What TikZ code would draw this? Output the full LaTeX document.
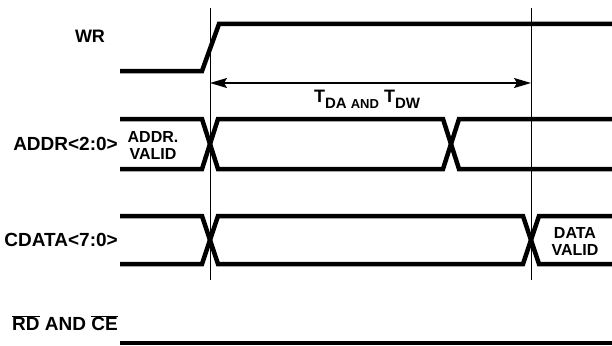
\documentclass[tikz,border=0pt]{standalone}
\usepackage{fontspec}
\setmainfont{Liberation Sans}
\usepackage{tikz}
\usetikzlibrary{arrows.meta}
\tikzstyle{timing} = [x = 1pt, y = -1pt]
\tikzstyle{signalLine} = [color=black, line width=4.5pt]
\tikzstyle{markerLine} = [color=black, line width=1pt]
\tikzstyle{spanArrow} = [color=black, line width=1.5pt, {Stealth[length=17pt, width=10pt, inset=3pt]}-{Stealth[length=17pt, width=10pt, inset=3pt]}]
\tikzstyle{signalName} = [font=\fontsize{19}{21}\selectfont\bfseries, anchor=east, inner sep=0pt]
\tikzstyle{stateText} = [font=\fontsize{16}{17}\selectfont\bfseries, align=center, inner sep=0pt]
\tikzstyle{spanText} = [font=\fontsize{18}{20}\selectfont\bfseries, anchor=base, inner sep=0pt]
\newcommand{\leftEdge}{120}
\newcommand{\rightEdge}{614}
\newcommand{\slant}{8}
\newcommand{\barText}[1]{\ensuremath{\overline{\mbox{#1}}}}
\newcommand{\spanSub}[1]{\raisebox{-6pt}{\fontsize{15}{16}\selectfont #1}}
\newcommand{\busLine}[4]{
  \draw [signalLine] (\leftEdge, #1) -- (#3 - \slant, #1) -- (#3 + \slant, #2) -- (#4 - \slant, #2) -- (#4 + \slant, #1) -- (\rightEdge, #1);
  \draw [signalLine] (\leftEdge, #2) -- (#3 - \slant, #2) -- (#3 + \slant, #1) -- (#4 - \slant, #1) -- (#4 + \slant, #2) -- (\rightEdge, #2);
}

\begin{document}
\begin{tikzpicture}[timing]
  \useasboundingbox (0,0) rectangle (612,345);
  % markers
  \coordinate (startTop) at (210,8);
  \coordinate (startBottom) at (210,280);
  \coordinate (endTop) at (531,8);
  \coordinate (endBottom) at (531,280);
  \coordinate (spanStart) at (210,83);
  \coordinate (spanEnd) at (531,83);
  \draw [markerLine] (startTop) -- (startBottom);
  \draw [markerLine] (endTop) -- (endBottom);
  \draw [spanArrow] (spanStart) -- (spanEnd);
  % signals
  \draw [signalLine] (\leftEdge,71) -- (202,71) -- (219,24) -- (\rightEdge,24);
  \busLine{119}{169}{210}{451}
  \busLine{216}{264}{210}{531}
  \draw [signalLine] (\leftEdge,343) -- (\rightEdge,343);
  % labels
  \node [signalName, anchor=center, font=\fontsize{18}{20}\selectfont\bfseries] (wrName) at (90,36) {WR};
  \node [signalName] (addrName) at (118,144) {ADDR<2:0>};
  \node [signalName] (cdataName) at (118,240) {CDATA<7:0>};
  \node [signalName] (rdName) at (118,323) {\barText{RD} AND \barText{CE}};
  \node [stateText] (addrValid) at (153,145) {ADDR.\\VALID};
  \node [stateText] (dataValid) at (575,241) {DATA\\VALID};
  \node [spanText] (spanName) at (367,102) {T\spanSub{DA {\fontsize{13}{14}\selectfont AND}} T\spanSub{DW}};
\end{tikzpicture}
\end{document}
